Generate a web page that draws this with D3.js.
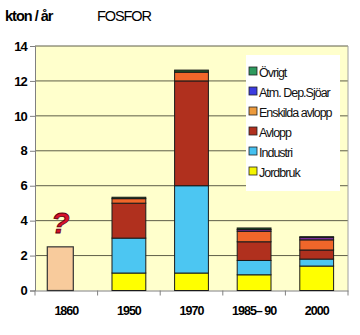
<!DOCTYPE html>
<html><head><meta charset="utf-8">
<script src="https://cdn.jsdelivr.net/npm/d3@7"></script>
<style>body{margin:0;background:#fff}svg{display:block}</style>
</head><body>
<script>
const categories = ["1860","1950","1970","1985\u2013 90","2000"];
const seriesNames = ["Jordbruk","Industri","Avlopp","Enskilda avlopp","Atm. Dep.Sjöar","Övrigt"];
const jordbruk = [0, 1.0, 1.0, 0.9, 1.4];
const industri = [0, 2.0, 5.0, 0.82, 0.4];
const avlopp = [0, 2.0, 6.0, 1.07, 0.52];
const enskilda = [0, 0.26, 0.5, 0.6, 0.58];
const atmDep = [0, 0, 0, 0.1, 0.14];
const ovrigt = [0, 0.08, 0.12, 0.09, 0.04];
const total1860 = [2.5, 0, 0, 0, 0];
const yTicks = [0, 2, 4, 6, 8, 10, 12, 14];

const W = 360, H = 335;
const m = {l: 35, r: 12, t: 46, b: 44.5};
const FONT = "Liberation Sans, Arial, sans-serif";
const svg = d3.select("body").append("svg").attr("width", W).attr("height", H);

const x = d3.scaleBand().domain(categories).range([m.l, W - m.r]).paddingInner(0.46).paddingOuter(0.23);
const y = d3.scaleLinear().domain([0, 14]).range([H - m.b, m.t]);

svg.append("rect").attr("x", m.l).attr("y", m.t).attr("width", W - m.r - m.l).attr("height", y(0) - m.t).attr("fill", "#FFFFCC");

// gridlines
svg.append("g").selectAll("line").data(yTicks.filter(d => d > 0)).join("line")
  .attr("x1", m.l).attr("x2", W - m.r).attr("y1", d => y(d)).attr("y2", d => y(d))
  .attr("stroke", "#5e5e48").attr("stroke-width", 1);
// right edge
svg.append("line").attr("x1", W - m.r).attr("x2", W - m.r).attr("y1", m.t).attr("y2", y(0)).attr("stroke", "#a0a0a0");

// y axis
const ya = svg.append("g").attr("transform", `translate(${m.l},0)`)
  .call(d3.axisLeft(y).tickValues(yTicks).tickSize(5).tickPadding(3));
ya.select(".domain").attr("stroke", "#808080");
ya.selectAll(".tick line").attr("stroke", "#808080");
ya.selectAll("text").attr("font-family", FONT).attr("font-size", 13).attr("font-weight", "bold").attr("fill", "#000").attr("letter-spacing", "-0.8");

// x axis
const xa = svg.append("g").attr("transform", `translate(0,${y(0)})`)
  .call(d3.axisBottom(x).tickSize(0).tickPadding(16));
xa.select(".domain").attr("stroke", "#808080");
xa.selectAll("text").attr("font-family", FONT).attr("font-size", 12.5).attr("font-weight", "bold").attr("fill", "#000").attr("letter-spacing", "-1");
// category boundary ticks
const step = x.step();
const bounds = d3.range(categories.length + 1).map(i => x.range()[0] + i * step);
svg.append("g").selectAll("line").data(bounds).join("line")
  .attr("x1", d => d).attr("x2", d => d).attr("y1", y(0)).attr("y2", y(0) + 5).attr("stroke", "#808080");

// stacked bars
const colors = ["#FFFF00", "#4CC6F2", "#B0301E", "#F0662A", "#7A2C9A", "#1E5A2A"];
const legendColors = ["#F4F400", "#45C0F0", "#B0301E", "#EC9A3C", "#3C3CE0", "#2E9A5E"];
const rows = categories.map((c, i) => ({cat: c, "Jordbruk": jordbruk[i], "Industri": industri[i], "Avlopp": avlopp[i], "Enskilda avlopp": enskilda[i], "Atm. Dep.Sjöar": atmDep[i], "Övrigt": ovrigt[i]}));
const stack = d3.stack().keys(seriesNames)(rows);
svg.append("g").selectAll("g").data(stack).join("g").attr("fill", (d, i) => colors[i])
  .selectAll("rect").data(d => d.filter(p => p[1] - p[0] > 0)).join("rect")
  .attr("x", d => x(d.data.cat)).attr("width", x.bandwidth())
  .attr("y", d => y(d[1])).attr("height", d => y(d[0]) - y(d[1]))
  .attr("stroke", "#1a1a1a").attr("stroke-width", 1);

// 1860 estimate bar
const w1860 = 26;
svg.append("g").selectAll("rect").data(categories.map((c, i) => ({cat: c, v: total1860[i]})).filter(d => d.v > 0)).join("rect")
  .attr("x", d => x(d.cat) + x.bandwidth() / 2 - w1860 / 2 - 6).attr("width", w1860)
  .attr("y", d => y(d.v)).attr("height", d => y(0) - y(d.v))
  .attr("fill", "#F8CB9C").attr("stroke", "#333").attr("stroke-width", 1.2);
svg.append("text").attr("x", x("1860") + x.bandwidth() / 2 - 6).attr("y", y(3.3))
  .attr("text-anchor", "middle").attr("font-family", FONT).attr("font-style", "italic")
  .attr("font-size", 30).attr("font-weight", "bold").attr("fill", "#D8102A").attr("stroke", "#5a0010").attr("stroke-width", 0.8)
  .text("?");

// titles
svg.append("text").attr("x", 5).attr("y", 21).attr("font-family", FONT)
  .attr("font-size", 14.5).attr("font-weight", "bold").attr("letter-spacing", "-1").text("kton / år");
svg.append("text").attr("x", 97).attr("y", 21).attr("font-family", FONT)
  .attr("font-size", 14.5).attr("letter-spacing", "-1.1").text("FOSFOR");

// legend
const lg = svg.append("g");
lg.append("rect").attr("x", 246).attr("y", 55).attr("width", 94).attr("height", 136).attr("fill", "#fff");
const order = seriesNames.slice().reverse();
order.forEach((n, i) => {
  const ci = seriesNames.indexOf(n);
  const yy = 72 + i * 20;
  lg.append("rect").attr("x", 249).attr("y", yy - 5).attr("width", 8).attr("height", 8)
    .attr("fill", legendColors[ci]).attr("stroke", "#222").attr("stroke-width", 0.8);
  lg.append("text").attr("x", 259).attr("y", yy + 4.5).attr("font-family", FONT)
    .attr("font-size", 12.5).attr("letter-spacing", "-1").attr("fill", "#111").text(n);
});
</script>
</body></html>
